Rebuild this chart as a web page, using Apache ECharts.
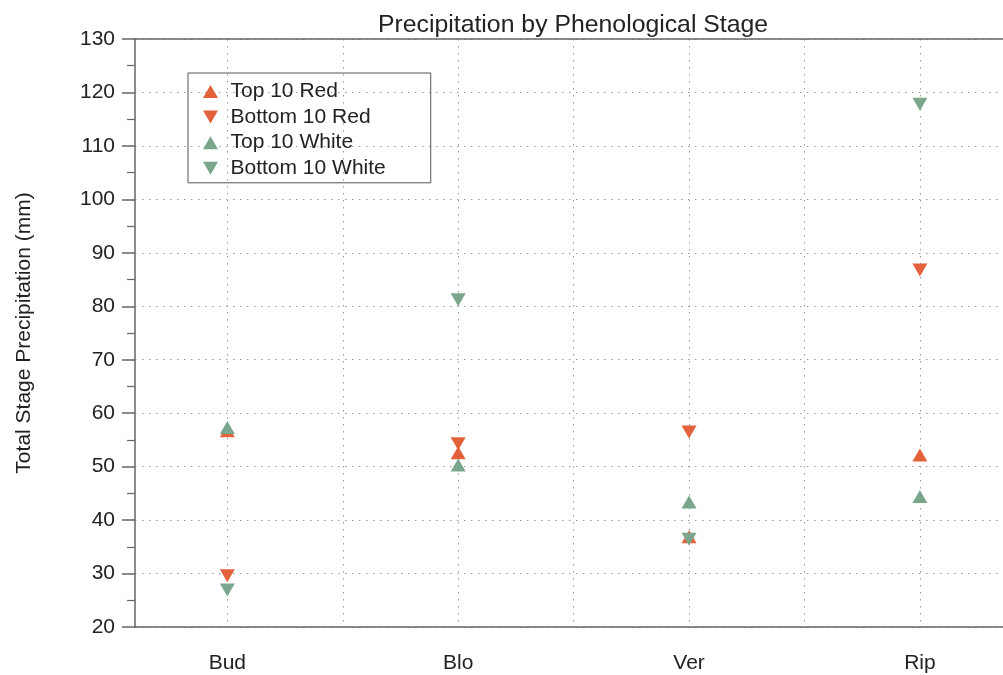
<!DOCTYPE html>
<html>
<head>
<meta charset="utf-8">
<script src="https://cdn.jsdelivr.net/npm/echarts@6/dist/echarts.min.js"></script>
<style>html,body{margin:0;padding:0;background:#fff}#c{width:1003px;height:675px}</style>
</head>
<body>
<div id="c"></div>
<script>
const categories = ['Bud', 'Blo', 'Ver', 'Rip'];
const top10Red = [56.7, 52.6, 36.9, 52.2];
const bottom10Red = [29.6, 54.3, 56.5, 86.8];
const top10White = [57.3, 50.3, 43.4, 44.4];
const bottom10White = [26.9, 81.2, 36.4, 117.8];
const yTicks = [20, 30, 40, 50, 60, 70, 80, 90, 100, 110, 120, 130];

const RED = '#e3623b';
const GREEN = '#7aa78b';
const UP = 'path://M0,13L7.5,0L15,13Z';
const DOWN = 'path://M0,0L15,0L7.5,13Z';

function pts(arr) { return arr.map((v, i) => [i + 1, v]); }

const seriesDefs = [
  { name: 'Top 10 Red', data: top10Red, color: RED, symbol: UP },
  { name: 'Bottom 10 Red', data: bottom10Red, color: RED, symbol: DOWN },
  { name: 'Top 10 White', data: top10White, color: GREEN, symbol: UP },
  { name: 'Bottom 10 White', data: bottom10White, color: GREEN, symbol: DOWN }
];

const XMIN = 0.6, XMAX = 4.36;
const chart = echarts.init(document.getElementById('c'), null, { renderer: 'canvas' });
const font = 'Liberation Sans, Arial, Helvetica, sans-serif';
const axisLineStyle = { color: '#666', width: 1.5 };
chart.setOption({
  animation: false,
  textStyle: { fontFamily: font },
  title: {
    text: 'Precipitation by Phenological Stage',
    left: 373, top: 8,
    textStyle: { fontSize: 24.8, fontWeight: 'normal', color: '#222', fontFamily: font }
  },
  legend: {
    orient: 'vertical',
    left: 188, top: 73,
    padding: [8, 45, 4, 15],
    itemWidth: 30, itemHeight: 13, itemGap: 4.6,
    borderColor: '#555', borderWidth: 1,
    symbolKeepAspect: true,
    textStyle: { fontSize: 21, color: '#222', fontFamily: font },
    data: seriesDefs.map(s => ({ name: s.name, icon: s.symbol }))
  },
  grid: {
    left: 135, right: 0, top: 39, bottom: 48, containLabel: false
  },
  xAxis: [{
    type: 'value', min: XMIN, max: XMAX,
    axisLine: { show: true, onZero: false, lineStyle: axisLineStyle },
    axisTick: { show: false, customValues: [1, 1.5, 2, 2.5, 3, 3.5, 4] },
    axisLabel: {
      customValues: [1, 2, 3, 4],
      formatter: v => categories[Math.round(v) - 1] || '',
      fontSize: 21, color: '#222', margin: 26, fontFamily: font
    },
    splitLine: { show: true, lineStyle: { color: '#999', width: 1, type: [1.5, 5.5] } }
  }, {
    type: 'value', min: XMIN, max: XMAX, position: 'top',
    axisLine: { show: true, onZero: false, lineStyle: axisLineStyle },
    axisTick: { show: false }, axisLabel: { show: false }, splitLine: { show: false }
  }],
  yAxis: {
    type: 'value', min: yTicks[0], max: yTicks[yTicks.length - 1], interval: 10,
    name: 'Total Stage Precipitation (mm)',
    nameLocation: 'middle', nameGap: 100,
    nameTextStyle: { fontSize: 21, color: '#222', fontFamily: font },
    axisLine: { show: true, onZero: false, lineStyle: axisLineStyle },
    axisTick: { show: true, inside: false, length: 13, lineStyle: { color: '#666', width: 1.5 } },
    minorTick: { show: true, splitNumber: 2, length: 8, lineStyle: { color: '#666', width: 1.2 } },
    axisLabel: { fontSize: 21, color: '#222', margin: 20, fontFamily: font },
    splitLine: { show: true, lineStyle: { color: '#999', width: 1, type: [1.5, 5.5] } }
  },
  series: seriesDefs.map(s => ({
    name: s.name, type: 'scatter',
    data: pts(s.data),
    symbol: s.symbol, symbolSize: [15, 13],
    itemStyle: { color: s.color, opacity: 1 }
  }))
});
</script>
</body>
</html>
